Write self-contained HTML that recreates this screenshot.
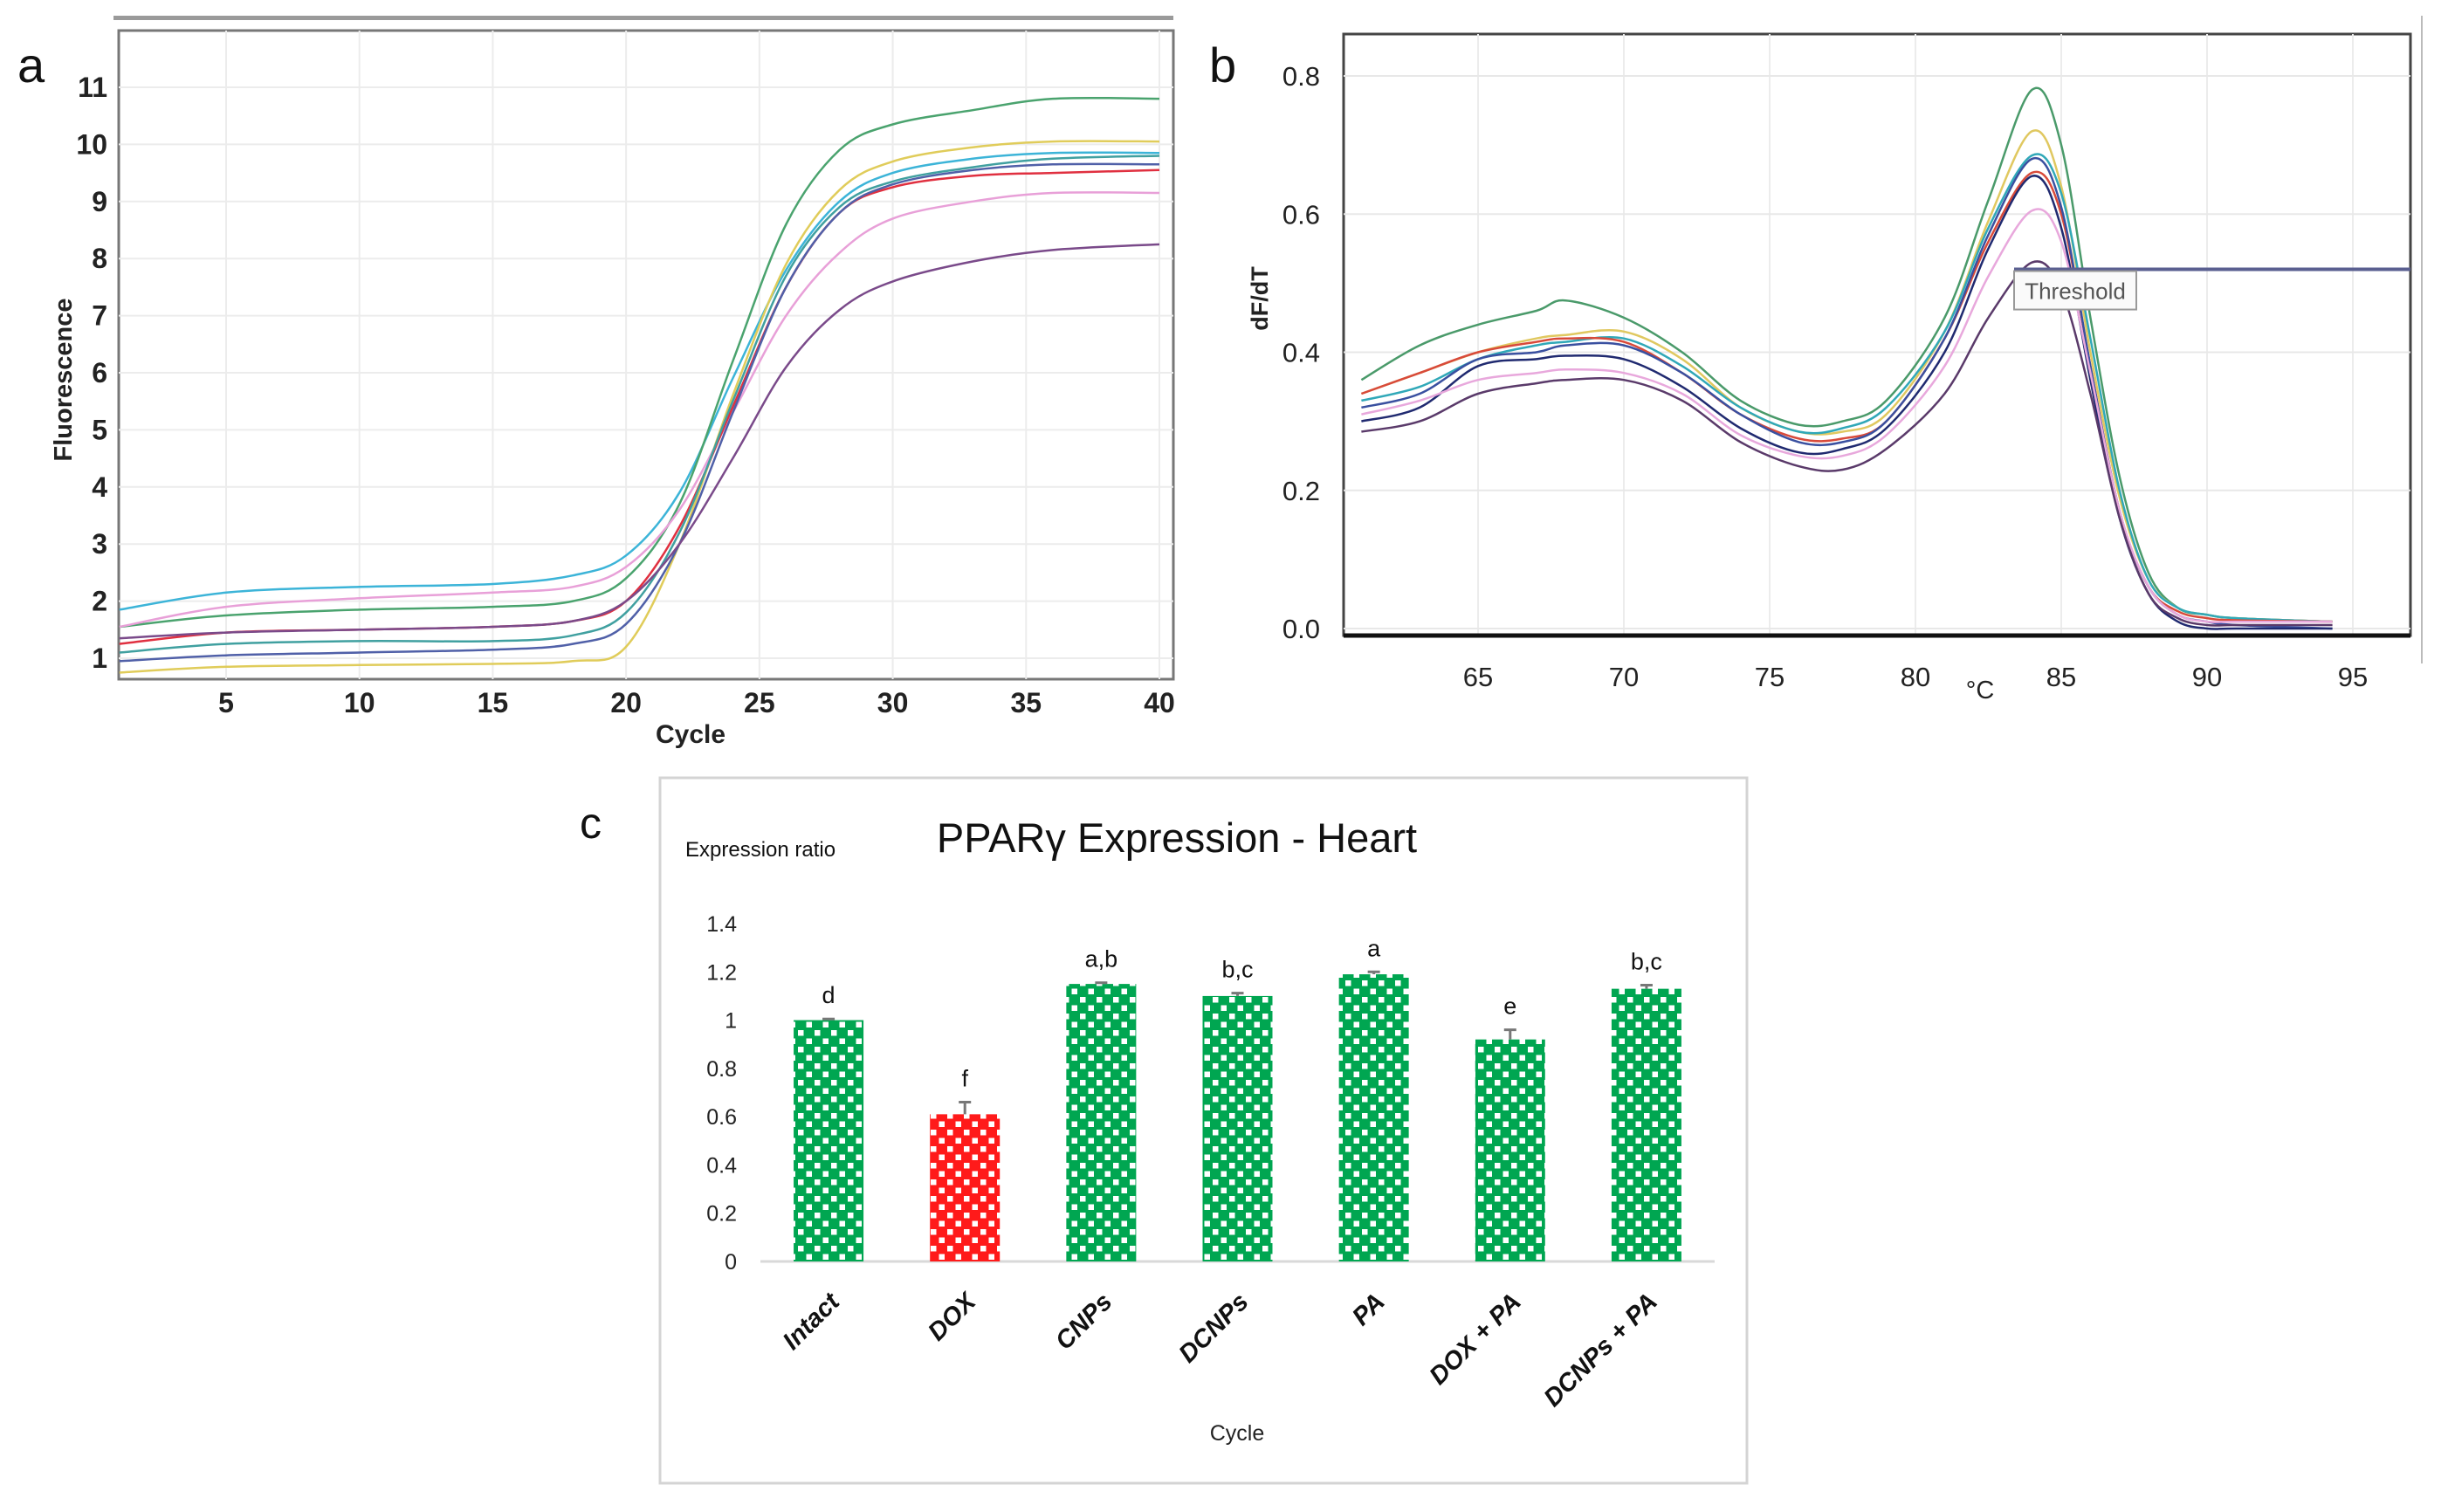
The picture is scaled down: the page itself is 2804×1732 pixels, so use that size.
<!DOCTYPE html>
<html><head><meta charset="utf-8"><style>
html,body{margin:0;padding:0;background:#fff;}
svg{display:block;font-family:"Liberation Sans",sans-serif;}
</style></head><body>
<svg id="root" width="2804" height="1732" viewBox="0 0 2804 1732" xmlns="http://www.w3.org/2000/svg">
<defs>
<pattern id="pg" width="19" height="19" patternUnits="userSpaceOnUse"><rect width="19" height="19" fill="#00a651"/><rect x="2" y="2" width="6.5" height="6.5" fill="#fff"/><rect x="11.5" y="11.5" width="6.5" height="6.5" fill="#fff"/></pattern>
<pattern id="pr" width="19" height="19" patternUnits="userSpaceOnUse"><rect width="19" height="19" fill="#ff1a1a"/><rect x="2" y="2" width="6.5" height="6.5" fill="#fff"/><rect x="11.5" y="11.5" width="6.5" height="6.5" fill="#fff"/></pattern>
</defs>
<g id="pa"></g>
<g id="pb"></g>
<g id="pc"></g>
</svg>
<script>
// ---------- Panel a data ----------
const aCycles=[1,5,10,15,18,20,22,24,26,28,30,33,36,40];
const aColors=["#3cb4d8","#4aa36e","#e8a0d8","#e0cc5a","#e03040","#5060a8","#40a0a0","#7a4a8a"];
const aS1=[1.85,2.15,2.25,2.3,2.45,2.8,3.9,5.9,7.8,9.0,9.5,9.75,9.85,9.85];
const aS2=[1.55,1.75,1.85,1.9,2.0,2.4,3.7,6.2,8.6,9.9,10.35,10.6,10.8,10.8];
const aS3=[1.55,1.9,2.05,2.15,2.25,2.6,3.6,5.3,7.0,8.1,8.7,9.0,9.15,9.15];
const aS4=[0.75,0.85,0.88,0.9,0.95,1.2,3.0,5.6,7.9,9.2,9.7,9.95,10.05,10.05];
const aS5=[1.25,1.45,1.5,1.55,1.65,2.0,3.3,5.4,7.5,8.8,9.25,9.45,9.5,9.55];
const aS6=[0.95,1.05,1.1,1.15,1.25,1.6,3.0,5.3,7.5,8.8,9.3,9.55,9.65,9.65];
const aS7=[1.1,1.25,1.3,1.3,1.4,1.8,3.2,5.5,7.7,8.9,9.35,9.6,9.75,9.8];
const aS8=[1.35,1.45,1.5,1.55,1.65,2.0,3.0,4.5,6.1,7.1,7.6,7.95,8.15,8.25];
const aXTicks=[5,10,15,20,25,30,35,40];
const aYTicks=[1,2,3,4,5,6,7,8,9,10,11];
// ---------- Panel b data ----------
const bTemps=[61,63,65,67,68,70,72,74,76,77.5,79,81,82.5,84,85,86,87,88,89,90,91,94.3];
const bColors=["#4a9a6a","#e0c860","#30a8b8","#d84a3a","#3a50a0","#202a70","#e8a8dc","#5a3a6a"];
const bS1=[0.36,0.41,0.44,0.46,0.475,0.45,0.40,0.33,0.295,0.30,0.33,0.45,0.62,0.78,0.70,0.45,0.22,0.08,0.03,0.02,0.015,0.01];
const bS2=[0.34,0.37,0.40,0.42,0.425,0.43,0.39,0.32,0.285,0.285,0.31,0.43,0.59,0.72,0.64,0.40,0.19,0.07,0.03,0.02,0.015,0.01];
const bS3=[0.33,0.35,0.39,0.41,0.415,0.42,0.38,0.32,0.285,0.29,0.32,0.43,0.58,0.685,0.63,0.42,0.20,0.07,0.03,0.02,0.015,0.01];
const bS4=[0.34,0.37,0.40,0.415,0.42,0.415,0.37,0.31,0.275,0.275,0.30,0.42,0.56,0.66,0.60,0.38,0.17,0.06,0.025,0.015,0.012,0.01];
const bS5=[0.32,0.34,0.39,0.40,0.41,0.41,0.37,0.31,0.27,0.27,0.30,0.42,0.57,0.68,0.61,0.38,0.17,0.06,0.02,0.01,0.005,0.0];
const bS6=[0.30,0.32,0.38,0.39,0.395,0.39,0.35,0.29,0.255,0.26,0.29,0.40,0.55,0.655,0.58,0.36,0.16,0.05,0.01,0.0,0.0,0.0];
const bS7=[0.31,0.33,0.36,0.37,0.375,0.37,0.34,0.28,0.25,0.25,0.28,0.38,0.51,0.605,0.56,0.37,0.17,0.06,0.02,0.01,0.01,0.01];
const bS8=[0.285,0.30,0.34,0.355,0.36,0.36,0.33,0.27,0.235,0.23,0.26,0.34,0.45,0.53,0.49,0.34,0.16,0.05,0.015,0.005,0.005,0.005];
const bThreshold=0.52;
const bXTicks=[65,70,75,80,85,90,95];
const bYTicks=[0.0,0.2,0.4,0.6,0.8];
// ---------- Panel c data ----------
const cCategories=["Intact","DOX","CNPs","DCNPs","PA","DOX + PA","DCNPs + PA"];
const cValues=[1.0,0.61,1.15,1.10,1.19,0.92,1.13];
const cErrors=[0.005,0.05,0.005,0.012,0.01,0.04,0.015];
const cLetters=["d","f","a,b","b,c","a","e","b,c"];
const cYTicks=["0","0.2","0.4","0.6","0.8","1","1.2","1.4"];

const NS="http://www.w3.org/2000/svg";
function mk(parent,tag,attrs,text){const e=document.createElementNS(NS,tag);for(const k in attrs)e.setAttribute(k,attrs[k]);if(text!==undefined)e.textContent=text;parent.appendChild(e);return e;}
function smooth(pts){let d="M"+pts[0][0].toFixed(1)+","+pts[0][1].toFixed(1);for(let i=0;i<pts.length-1;i++){const p0=pts[i-1]||pts[i],p1=pts[i],p2=pts[i+1],p3=pts[i+2]||p2;const c1=[p1[0]+(p2[0]-p0[0])/6,p1[1]+(p2[1]-p0[1])/6],c2=[p2[0]-(p3[0]-p1[0])/6,p2[1]-(p3[1]-p1[1])/6];d+="C"+c1[0].toFixed(1)+","+c1[1].toFixed(1)+" "+c2[0].toFixed(1)+","+c2[1].toFixed(1)+" "+p2[0].toFixed(1)+","+p2[1].toFixed(1);}return d;}

// ===== Panel a =====
(function(){
const g=document.getElementById('pa');
const L=136,R=1344,T=35,B=778;
const xA=c=>259+(c-5)*(1328-259)/35;
const yA=v=>754-(v-1)*(754-100)/10;
let e;
e=mk(g,'rect',{x:130,y:18,width:1214,height:5,fill:'#9a9a9a'});

e=mk(g,'rect',{x:L,y:T,width:R-L,height:B-T,fill:'#fff',stroke:'#777','stroke-width':3});

aXTicks.forEach(t=>{e=mk(g,'line',{x1:xA(t),x2:xA(t),y1:T,y2:B,stroke:'#ececec','stroke-width':2});
e=mk(g,'text',{x:xA(t),y:816,'font-size':32,'font-weight':'bold','text-anchor':'middle',fill:'#222'},String(t));});
aYTicks.forEach(t=>{e=mk(g,'line',{x1:L,x2:R,y1:yA(t),y2:yA(t),stroke:'#ececec','stroke-width':2});
e=mk(g,'text',{x:123,y:yA(t)+11,'font-size':32,'font-weight':'bold','text-anchor':'end',fill:'#222'},String(t));});
const series=[aS1,aS2,aS3,aS4,aS5,aS6,aS7,aS8];
series.forEach((s,i)=>{e=mk(g,'path',{d:smooth(aCycles.map((c,j)=>[xA(c),yA(s[j])])),fill:'none',stroke:aColors[i],'stroke-width':2.5});
});
e=mk(g,'text',{x:791,y:851,'font-size':30,'font-weight':'bold','text-anchor':'middle',fill:'#222'},'Cycle');

e=mk(g,'text',{x:0,y:0,'font-size':29,'font-weight':'bold','text-anchor':'middle',fill:'#222',transform:'translate(82,435) rotate(-90)'},'Fluorescence');

e=mk(g,'text',{x:20,y:94,'font-size':56,fill:'#111'},'a');

})();

// ===== Panel b =====
(function(){
const g=document.getElementById('pb');
const L=1539,R=2761,T=39,B=728;
const xB=t=>1693+(t-65)*(2695-1693)/30;
const yB=v=>720-v*(720-87)/0.8;
let e;
e=mk(g,'rect',{x:L,y:T,width:R-L,height:B-T,fill:'#fff',stroke:'#444','stroke-width':3});

bXTicks.forEach(t=>{e=mk(g,'line',{x1:xB(t),x2:xB(t),y1:T,y2:B,stroke:'#ececec','stroke-width':2});
e=mk(g,'text',{x:xB(t),y:786,'font-size':31,'text-anchor':'middle',fill:'#222'},String(t));});
bYTicks.forEach(t=>{e=mk(g,'line',{x1:L,x2:R,y1:yB(t),y2:yB(t),stroke:'#e8e8e8','stroke-width':2});
e=mk(g,'text',{x:1512,y:yB(t)+11,'font-size':31,'text-anchor':'end',fill:'#222'},t.toFixed(1));});
e=mk(g,'line',{x1:L,x2:R,y1:B,y2:B,stroke:'#111','stroke-width':5});

const series=[bS1,bS2,bS3,bS4,bS5,bS6,bS7,bS8];
series.forEach((s,i)=>{e=mk(g,'path',{d:smooth(bTemps.map((t,j)=>[xB(t),yB(s[j])])),fill:'none',stroke:bColors[i],'stroke-width':2.5});
});
const ty=yB(bThreshold);
e=mk(g,'line',{x1:2307,x2:R,y1:ty,y2:ty,stroke:'#5a5f90','stroke-width':4});

e=mk(g,'rect',{x:2307,y:ty+2,width:140,height:44,fill:'#fafafa',stroke:'#999','stroke-width':2});

e=mk(g,'text',{x:2377,y:ty+34,'font-size':26,'text-anchor':'middle',fill:'#555'},'Threshold');

e=mk(g,'line',{x1:2774,x2:2774,y1:18,y2:760,stroke:'#bbb','stroke-width':2});

e=mk(g,'text',{x:2268,y:800,'font-size':29,'text-anchor':'middle',fill:'#222'},'°C');

e=mk(g,'text',{x:0,y:0,'font-size':27,'font-weight':'bold','text-anchor':'middle',fill:'#222',transform:'translate(1452,342) rotate(-90)'},'dF/dT');

e=mk(g,'text',{x:1385,y:94,'font-size':56,fill:'#111'},'b');

})();

// ===== Panel c =====
(function(){
const g=document.getElementById('pc');
const L=871,R=1964,Y0=1445;
const yC=v=>Y0-v*(1445-1058)/1.4;
const band=(R-L)/cCategories.length;
const xC=i=>L+band*(i+0.5);
const bw=80;
let e;
e=mk(g,'rect',{x:756,y:891,width:1245,height:808,fill:'#fff',stroke:'#d4d4d4','stroke-width':3});

e=mk(g,'text',{x:1348,y:976,'font-size':47,'text-anchor':'middle',fill:'#111'},'PPARγ Expression - Heart');

e=mk(g,'text',{x:785,y:981,'font-size':24,fill:'#111'},'Expression ratio');

cYTicks.forEach(t=>{e=mk(g,'text',{x:844,y:yC(parseFloat(t))+9,'font-size':25,'text-anchor':'end',fill:'#222'},t);
});
e=mk(g,'line',{x1:L,x2:R,y1:Y0,y2:Y0,stroke:'#d9d9d9','stroke-width':3});

cCategories.forEach((c,i)=>{
const cx=xC(i),top=yC(cValues[i]);
e=mk(g,'rect',{x:cx-bw/2,y:top,width:bw,height:Y0-top,fill:i===1?'url(#pr)':'url(#pg)'});

const et=yC(cValues[i]+cErrors[i]);
e=mk(g,'path',{d:`M${cx},${top}V${et}M${cx-7},${et}H${cx+7}`,stroke:'#777','stroke-width':3,fill:'none'});

e=mk(g,'text',{x:cx,y:et-18,'font-size':27,'text-anchor':'middle',fill:'#111'},cLetters[i]);

e=mk(g,'text',{x:0,y:0,'font-size':29,'font-weight':'bold','font-style':'italic','text-anchor':'end',fill:'#111',transform:`translate(${cx+14},${Y0+48}) rotate(-45)`},c);

});
e=mk(g,'text',{x:1417,y:1650,'font-size':25,'text-anchor':'middle',fill:'#222'},'Cycle');

e=mk(g,'text',{x:664,y:960,'font-size':50,fill:'#111'},'c');

})();
</script>
</body></html>
